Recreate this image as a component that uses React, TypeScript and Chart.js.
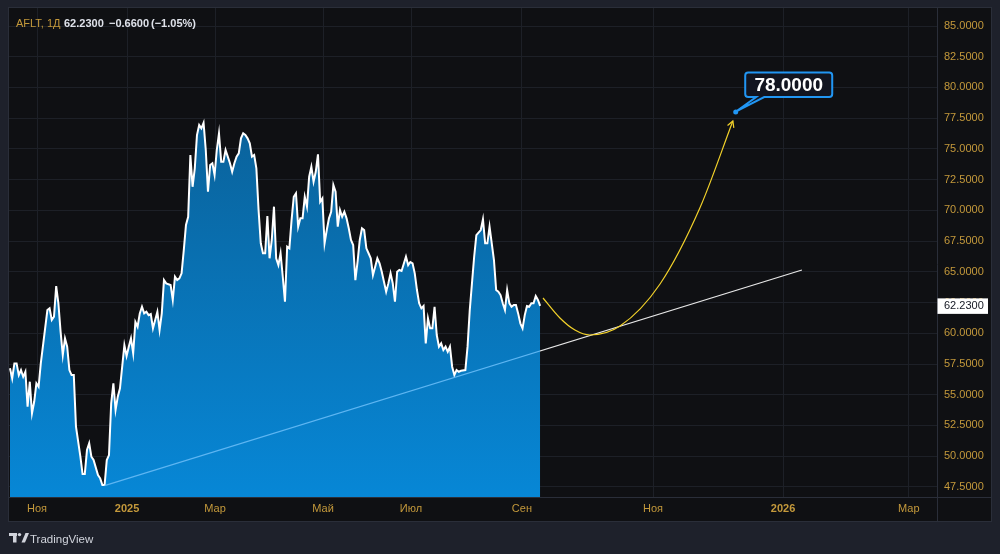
import React, { useEffect, useRef } from "react";
import { Chart, registerables } from "chart.js";

Chart.register(...registerables);

// ---- data (trading-session index, close) ----
const sessions = [
  0, 1, 2, 3, 4, 5, 6, 7, 8, 9, 10, 11, 12, 13, 14, 17, 18, 19, 20, 21, 22, 23, 24, 25, 26, 27, 28, 29, 30,
  32, 33, 34, 35, 36, 37, 38, 40, 41, 42, 43, 44, 45, 46, 47, 48, 49, 50, 52, 53, 54, 55, 56, 57, 58, 59, 60,
  61, 62, 63, 64, 65, 66, 67, 68, 69, 70, 71, 73, 74, 75, 76, 77, 78, 79, 80, 81, 82, 83, 84, 85, 86, 87, 88,
  89, 90, 91, 92, 93, 94, 95, 96, 97, 98, 99, 100, 101, 102, 103, 104, 105, 106, 107, 108, 109, 110, 111, 112,
  113, 114, 115, 116, 117, 118, 119, 120, 121, 122, 123, 124, 125, 126, 127, 128, 129, 130, 131, 132, 133, 134,
  135, 136, 137, 138, 139, 140, 141, 142, 143, 144, 145, 146, 147, 148, 149, 150, 151, 152, 153, 154, 155, 156,
  157, 158, 159, 160, 161, 162, 163, 164, 165, 166, 167, 168, 169, 170, 171, 172, 173, 174, 175, 176, 177, 178,
  180, 181, 182, 183, 184, 185, 186, 187, 188, 189, 190, 191, 192, 193, 194, 195, 196, 197, 198, 199, 200, 201,
  202, 203, 204, 205, 207, 208, 209, 210, 211, 212, 214, 215, 216, 217, 218, 219, 220, 221, 222, 223, 224, 225,
  226, 227, 228, 229, 230, 231, 232, 233, 234, 235, 236, 237, 238, 239, 240, 241,
];
const closes = [
  57.15, 56.33, 57.55, 57.55, 56.6, 57.01, 56.46, 56.87, 54.02, 56.06, 53.49, 54.43, 55.93, 55.65, 57.55, 61.89,
  62.03, 61.08, 61.35, 63.84, 62.44, 60.13, 58.23, 59.59, 58.91, 57.01, 56.6, 56.6, 52.4,
  49.96, 48.55, 48.55, 50.5, 51.05, 49.96, 49.69, 48.47, 48.2, 47.65, 47.65, 49.69, 50.09, 54.3, 55.93, 53.76,
  54.84, 55.52, 59.04, 58.15, 58.91, 59.59, 58.37, 60.92, 60.53, 61.62, 62.16,
  61.62, 61.75, 61.48, 61.57, 60.4, 61.08, 61.75, 60.26, 61.62, 64.33, 64.06, 63.93, 62.71, 64.6, 64.33, 64.47,
  64.88, 66.77, 68.81, 69.48, 74.5, 71.92, 73.42, 76.13, 76.94, 76.68, 77.13,
  74.91, 71.52, 73.69, 73.83, 72.88, 74.91, 76.27, 73.96, 73.96, 74.91, 74.37, 73.83, 73.14, 73.83, 74.37, 74.64,
  75.86, 76.27, 76.13, 75.86, 75.46, 74.37, 74.5, 73.42,
  70.03, 67.32, 66.51, 66.51, 69.54, 66.1, 67.59, 70.3, 66.1, 65.55, 66.51, 64.6, 62.57, 67.04, 66.91, 69.21,
  71.11, 71.39, 68.67, 69.35, 69.35, 71.11,
  70.3, 72.74, 73.55, 72.33, 73.14, 74.56, 70.7, 70.98, 67.32, 68.4, 69.35, 69.89, 72.06, 71.52, 68.67, 70.03,
  69.48, 69.89, 69.35, 68.54, 67.59, 67.18,
  64.33, 65.82, 67.59, 68.54, 68.4, 66.91, 66.51, 66.1, 64.74, 65.41, 66.1, 65.69, 65.01, 64.19, 63.38, 64.06,
  64.88, 64.06, 62.57, 65.01, 65.15, 65.07,
  66.23, 65.55, 65.8, 65.69, 64.88, 63.52, 62.44, 62.03, 62.22, 59.18, 61.22, 60.4, 60.4, 62.16, 59.86, 58.91,
  59.18, 58.64, 58.91, 58.5, 58.91, 57.28,
  56.6, 57.01, 56.87, 56.95, 57.01, 58.91, 61.89, 64.06, 66.23, 67.99, 68.4, 69.27, 67.32, 67.32, 68.67, 67.32,
  65.96, 63.52, 63.38, 63.11, 62.44, 61.89,
  63.52, 62.44, 62.16, 62.3, 62.3, 61.62, 60.81, 60.4, 61.48, 62.22, 62.16, 62.44, 62.44, 63.03, 62.71, 62.23,
];

// support trend line (two anchors)
const trendSessions = [43, 360];
const trendValues = [47.6, 65.15];

// forecast path (yellow)
const forecastSessions = [242.3, 250, 256.8, 263.6, 277.3, 295.5, 313.6, 328.6];
const forecastValues = [62.87, 61.24, 60.26, 59.86, 60.59, 64.01, 70.19, 77.27];

// target callout
const targetSession = 329.9;
const targetPrice = 78;

// header
const ticker = "AFLT, 1Д";
const lastClose = 62.23;
const dayChange = -0.66;
const dayChangePct = -1.05;

// axes
const xTickSessions = [12.3, 53.2, 93.2, 142.3, 182.3, 232.7, 292.3, 351.4, 408.6];
const xTickLabels = ["Ноя", "2025", "Мар", "Май", "Июл", "Сен", "Ноя", "2026", "Мар"];
const yTickValues = [47.5, 50, 52.5, 55, 57.5, 60, 62.5, 65, 67.5, 70, 72.5, 75, 77.5, 80, 82.5, 85];
const xMin = -0.45;
const xMax = 421.4;
const yMin = 46.68;
const yMax = 86.465;

// ---- styles ----
const FONT = "'Liberation Sans', Arial, sans-serif";
const PAGE_BG = "#1e212b";
const PANEL_BG = "#0f1013";
const GRID = "#1d2027";
const BORDER = "#2a2e39";
const GOLD = "#c4993b";
const TEXT = "#dfe2ea";
const BLUE = "#2196f3";

const fmt4 = (v: number) => v.toFixed(4);
const signed = (v: number, d: number) => (v < 0 ? "\u2212" : "+") + Math.abs(v).toFixed(d);

const overlay = {
  id: "overlay",
  beforeDraw(chart: any) {
    const { ctx, chartArea: a } = chart;
    const xs = chart.scales.x;
    const ys = chart.scales.y;
    ctx.save();
    ctx.fillStyle = PAGE_BG;
    ctx.fillRect(0, 0, chart.width, chart.height);
    ctx.fillStyle = PANEL_BG;
    ctx.fillRect(a.left, a.top, ys.right - a.left, xs.bottom - a.top);
    ctx.restore();
  },
  afterDraw(chart: any) {
    const { ctx, chartArea: a } = chart;
    const xs = chart.scales.x;
    const ys = chart.scales.y;
    ctx.save();

    // panel borders
    ctx.strokeStyle = BORDER;
    ctx.lineWidth = 1;
    ctx.beginPath();
    ctx.moveTo(a.left, a.bottom + 0.5);
    ctx.lineTo(ys.right, a.bottom + 0.5);
    ctx.moveTo(a.right + 0.5, a.top);
    ctx.lineTo(a.right + 0.5, xs.bottom);
    ctx.stroke();
    ctx.strokeRect(a.left - 0.5, a.top - 0.5, ys.right - a.left + 1, xs.bottom - a.top + 1);

    // arrow head at end of forecast
    const n = forecastSessions.length;
    const x1 = xs.getPixelForValue(forecastSessions[n - 2]);
    const y1 = ys.getPixelForValue(forecastValues[n - 2]);
    const x2 = xs.getPixelForValue(forecastSessions[n - 1]);
    const y2 = ys.getPixelForValue(forecastValues[n - 1]);
    const ang = Math.atan2(y2 - y1, x2 - x1);
    const L = 7;
    ctx.strokeStyle = "#f2d12a";
    ctx.lineWidth = 1.2;
    ctx.beginPath();
    ctx.moveTo(x2 + L * Math.cos(ang + Math.PI - 0.5), y2 + L * Math.sin(ang + Math.PI - 0.5));
    ctx.lineTo(x2, y2);
    ctx.lineTo(x2 + L * Math.cos(ang + Math.PI + 0.5), y2 + L * Math.sin(ang + Math.PI + 0.5));
    ctx.stroke();

    // target callout
    const tx = xs.getPixelForValue(targetSession);
    const ty = ys.getPixelForValue(targetPrice);
    const bl = tx + 9.5, br = tx + 96.5, bt = ty - 39.5, bb = ty - 15;
    ctx.lineWidth = 2;
    ctx.strokeStyle = BLUE;
    ctx.fillStyle = "#121520";
    ctx.beginPath();
    const r = 3;
    ctx.moveTo(bl + r, bt);
    ctx.lineTo(br - r, bt);
    ctx.quadraticCurveTo(br, bt, br, bt + r);
    ctx.lineTo(br, bb - r);
    ctx.quadraticCurveTo(br, bb, br - r, bb);
    ctx.lineTo(bl + 19, bb);
    ctx.lineTo(tx + 1, ty - 1);
    ctx.lineTo(bl + 11, bb);
    ctx.lineTo(bl + r, bb);
    ctx.quadraticCurveTo(bl, bb, bl, bb - r);
    ctx.lineTo(bl, bt + r);
    ctx.quadraticCurveTo(bl, bt, bl + r, bt);
    ctx.closePath();
    ctx.fill();
    ctx.stroke();
    ctx.fillStyle = BLUE;
    ctx.beginPath();
    ctx.arc(tx, ty, 2.5, 0, Math.PI * 2);
    ctx.fill();
    ctx.fillStyle = "#ffffff";
    ctx.font = `bold 19px ${FONT}`;
    ctx.textAlign = "center";
    ctx.textBaseline = "middle";
    ctx.fillText(fmt4(targetPrice), (bl + br) / 2, (bt + bb) / 2 + 1);

    // last price label on axis
    const py = ys.getPixelForValue(lastClose);
    ctx.fillStyle = "#ffffff";
    ctx.fillRect(a.right + 0.5, py - 7.5, 50.5, 15.5);
    ctx.fillStyle = "#131722";
    ctx.font = `11px ${FONT}`;
    ctx.textAlign = "left";
    ctx.textBaseline = "middle";
    ctx.fillText(fmt4(lastClose), a.right + 7, py + 0.5);

    // header
    ctx.textBaseline = "alphabetic";
    const hy = 27;
    ctx.font = `11px ${FONT}`;
    ctx.fillStyle = GOLD;
    ctx.fillText(ticker, 16, hy);
    ctx.font = `bold 11px ${FONT}`;
    ctx.fillStyle = TEXT;
    const parts = [fmt4(lastClose), signed(dayChange, 4), `(${signed(dayChangePct, 2)}%)`];
    const partX = [64, 109, 151];
    parts.forEach((p, i) => ctx.fillText(p, partX[i], hy));

    // TradingView logo
    const lx = 9, ly = 533;
    ctx.fillStyle = "#d1d4dc";
    ctx.fillRect(lx, ly, 8, 3);
    ctx.fillRect(lx + 4, ly, 3.5, 9.5);
    ctx.beginPath();
    ctx.arc(lx + 10.5, ly + 1.6, 1.7, 0, Math.PI * 2);
    ctx.fill();
    ctx.beginPath();
    ctx.moveTo(lx + 12.5, ly + 9.5);
    ctx.lineTo(lx + 16.5, ly);
    ctx.lineTo(lx + 20, ly);
    ctx.lineTo(lx + 16, ly + 9.5);
    ctx.closePath();
    ctx.fill();
    ctx.font = `11.5px ${FONT}`;
    ctx.fillText("TradingView", 30, 543);

    ctx.restore();
  },
};

export default function App() {
  const ref = useRef<HTMLCanvasElement>(null);

  useEffect(() => {
    const canvas = ref.current!;
    const lastSession = sessions[sessions.length - 1];

    const chart = new Chart(canvas, {
      type: "line",
      data: {
        datasets: [
          {
            label: "AFLT",
            data: sessions.map((s, i) => ({ x: s, y: closes[i] })),
            borderColor: "#ffffff",
            borderWidth: 2,
            pointRadius: 0,
            tension: 0,
            fill: "start",
            order: 3,
            backgroundColor: (c: any) => {
              const area = c.chart.chartArea;
              if (!area) return "#0a74b8";
              const g = c.chart.ctx.createLinearGradient(0, area.top, 0, area.bottom);
              g.addColorStop(0, "#0b5789");
              g.addColorStop(1, "#0787d6");
              return g;
            },
          },
          {
            label: "trend",
            data: trendSessions.map((s, i) => ({ x: s, y: trendValues[i] })),
            borderWidth: 1.2,
            pointRadius: 0,
            fill: false,
            order: 2,
            borderColor: (c: any) => {
              const ch = c.chart;
              const area = ch.chartArea;
              if (!area || !ch.scales.x) return "#dddddd";
              const xl = ch.scales.x.getPixelForValue(lastSession);
              const f = Math.min(1, Math.max(0, (xl - area.left) / (area.right - area.left)));
              const g = ch.ctx.createLinearGradient(area.left, 0, area.right, 0);
              g.addColorStop(0, "#5db5f2");
              g.addColorStop(f, "#5db5f2");
              g.addColorStop(Math.min(1, f + 0.0001), "#e6e6e6");
              g.addColorStop(1, "#e6e6e6");
              return g;
            },
          },
          {
            label: "forecast",
            data: forecastSessions.map((s, i) => ({ x: s, y: forecastValues[i] })),
            borderColor: "#f2d12a",
            borderWidth: 1.2,
            pointRadius: 0,
            fill: false,
            cubicInterpolationMode: "monotone",
            order: 1,
          },
        ],
      },
      options: {
        responsive: false,
        animation: false,
        devicePixelRatio: 1,
        layout: { padding: { left: 9, top: 8, right: 9, bottom: 33 } },
        plugins: {
          legend: { display: false },
          tooltip: { enabled: false },
          title: { display: false },
        },
        scales: {
          x: {
            type: "linear",
            min: xMin,
            max: xMax,
            grid: { color: GRID, drawTicks: false },
            border: { display: false },
            afterBuildTicks: (s: any) => {
              s.ticks = xTickSessions.map((v) => ({ value: v }));
            },
            afterFit: (s: any) => {
              s.height = 24;
              s.paddingLeft = 0;
              s.paddingRight = 0;
            },
            ticks: {
              autoSkip: false,
              maxRotation: 0,
              padding: 5,
              color: GOLD,
              font: (c: any) => ({
                family: FONT,
                size: 11,
                weight: /^\d{4}$/.test(xTickLabels[c.index] || "") ? "bold" : "normal",
              }),
              callback: (_v: any, i: number) => xTickLabels[i],
            },
          },
          y: {
            type: "linear",
            position: "right",
            min: yMin,
            max: yMax,
            grid: { color: GRID, drawTicks: false },
            border: { display: false },
            afterBuildTicks: (s: any) => {
              s.ticks = yTickValues.map((v) => ({ value: v }));
            },
            afterFit: (s: any) => {
              s.width = 54;
              s.paddingTop = 0;
              s.paddingBottom = 0;
            },
            ticks: {
              padding: 7,
              color: GOLD,
              font: { family: FONT, size: 11 },
              callback: (v: any) => fmt4(Number(v)),
            },
          },
        },
      },
      plugins: [overlay],
    } as any);

    return () => chart.destroy();
  }, []);

  return (
    <div style={{ position: "fixed", left: 0, top: 0, width: 1000, height: 554, background: PAGE_BG }}>
      <canvas ref={ref} width={1000} height={554} style={{ display: "block", width: 1000, height: 554 }} />
    </div>
  );
}
